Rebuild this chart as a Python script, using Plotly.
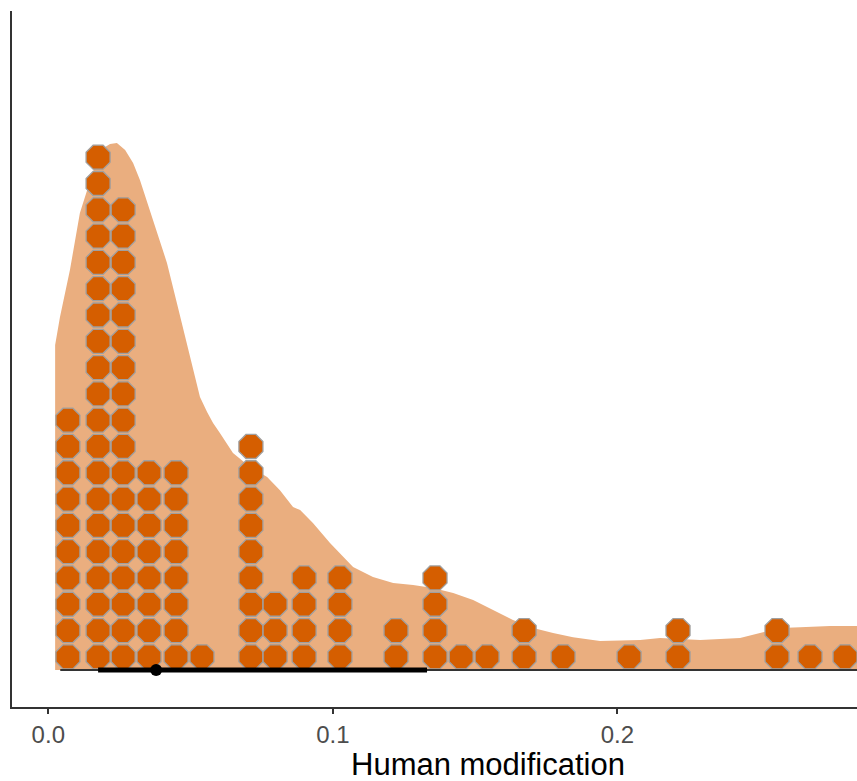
import plotly.graph_objects as go

# Dot columns (binned values of Human modification) and dot counts per column
dot_x = [0.0069, 0.0175, 0.0263, 0.0354, 0.0449, 0.0540, 0.0712, 0.0797, 0.0899,
         0.1025, 0.1222, 0.1359, 0.1451, 0.1542, 0.1672, 0.1809, 0.2041, 0.2213,
         0.2561, 0.2677, 0.2800]
dot_n = [10, 20, 18, 8, 8, 1, 9, 3, 4, 4, 2, 4, 1, 1, 2, 1, 1, 2, 2, 1, 1]

# Density outline (scaled so that one dot row = 1 unit)
dens_x = [0.0024, 0.0041, 0.0076, 0.0111, 0.0140, 0.0182, 0.0217, 0.0241, 0.0270,
          0.0298, 0.0322, 0.0357, 0.0392, 0.0417, 0.0452, 0.0487, 0.0533, 0.0558,
          0.0579, 0.0603, 0.0649, 0.0709, 0.0769, 0.0814, 0.0860, 0.0885, 0.0930,
          0.0990, 0.1036, 0.1071, 0.1141, 0.1212, 0.1282, 0.1352, 0.1423, 0.1493,
          0.1563, 0.1633, 0.1704, 0.1774, 0.1844, 0.1939, 0.2080, 0.2150, 0.2291,
          0.2431, 0.2501, 0.2572, 0.2642, 0.2747, 0.2900]
dens_y = [12.36, 13.42, 15.21, 17.38, 18.37, 19.77, 20.00, 20.04, 19.77,
          19.28, 18.63, 17.49, 16.35, 15.48, 13.95, 12.43, 10.38, 9.81,
          9.39, 9.01, 8.25, 7.72, 7.34, 6.84, 6.20, 6.08, 5.59,
          4.83, 4.30, 3.92, 3.54, 3.31, 3.23, 3.12, 2.93, 2.66,
          2.28, 1.90, 1.60, 1.41, 1.25, 1.10, 1.14, 1.22, 1.14,
          1.22, 1.41, 1.60, 1.63, 1.67, 1.67]

# Interval summary
median_val = 0.0379
thick_int = [0.0175, 0.1331]
thin_int = [0.0042, 0.2950]

tick_vals = [0.0, 0.1, 0.2]
tick_text = ["0.0", "0.1", "0.2"]
x_label = "Human modification"

fig = go.Figure()

fig.add_trace(go.Scatter(
    x=dens_x, y=dens_y, mode="lines", fill="tozeroy",
    line=dict(color="rgba(0,0,0,0)", width=0),
    fillcolor="#EAAE7F", hoverinfo="skip", showlegend=False))

px, py = [], []
for xv, n in zip(dot_x, dot_n):
    for k in range(n):
        px.append(xv)
        py.append(k + 0.5)
fig.add_trace(go.Scatter(
    x=px, y=py, mode="markers",
    marker=dict(symbol="octagon", size=26, color="#D55E00",
                line=dict(color="#A0A0A0", width=1.3)),
    showlegend=False))

fig.add_trace(go.Scatter(
    x=thin_int, y=[0, 0], mode="lines",
    line=dict(color="#333333", width=2), showlegend=False))
fig.add_trace(go.Scatter(
    x=thick_int, y=[0, 0], mode="lines",
    line=dict(color="black", width=5), showlegend=False))
fig.add_trace(go.Scatter(
    x=[median_val], y=[0], mode="markers",
    marker=dict(color="black", size=12, symbol="circle"), showlegend=False))

fig.add_annotation(
    text=x_label, xref="paper", yref="paper", x=0.5633, y=-0.0819,
    xanchor="center", yanchor="middle", showarrow=False,
    font=dict(size=31, color="black"))

fig.update_layout(
    width=857, height=781,
    margin=dict(l=12, r=0, t=11, b=74),
    plot_bgcolor="white", paper_bgcolor="white",
    font=dict(family="Liberation Sans, Arial, sans-serif"),
    xaxis=dict(
        range=[-0.01276, 0.2842], showgrid=False, zeroline=False,
        showline=True, linecolor="#333333", linewidth=2,
        ticks="outside", ticklen=5, tickwidth=2, tickcolor="#333333",
        tickvals=tick_vals, ticktext=tick_text,
        tickfont=dict(size=24, color="#4D4D4D")),
    yaxis=dict(
        range=[-1.407, 25.06], showgrid=False, zeroline=False,
        showline=True, linecolor="#333333", linewidth=2,
        showticklabels=False, ticks=""),
)

fig.write_html("out.html")
